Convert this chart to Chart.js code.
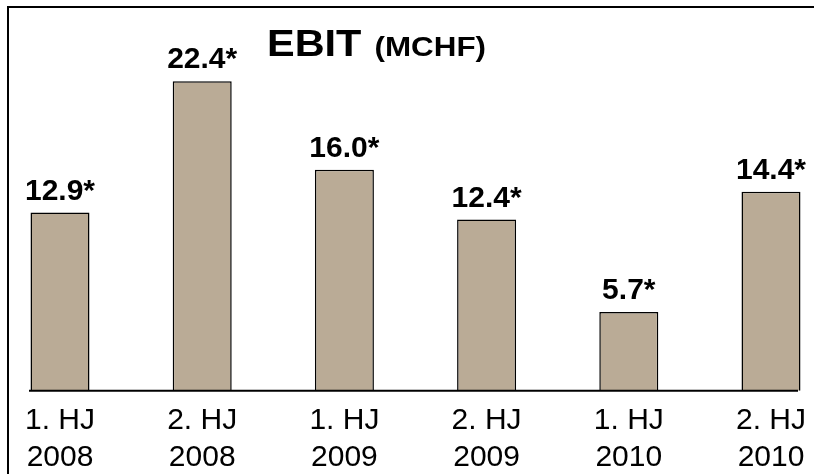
<!DOCTYPE html>
<html>
<head>
<meta charset="utf-8">
<script src="https://cdn.jsdelivr.net/npm/chart.js@4.4.0/dist/chart.umd.min.js"></script>
<style>
  html, body { margin: 0; padding: 0; background: #fff; }
  #wrap { width: 814px; height: 474px; position: relative; }
</style>
</head>
<body>
<div id="wrap"><canvas id="ebitChart"></canvas></div>
<script>
const periods = [["1. HJ", "2008"], ["2. HJ", "2008"], ["1. HJ", "2009"], ["2. HJ", "2009"], ["1. HJ", "2010"], ["2. HJ", "2010"]];
const ebit = [12.9, 22.4, 16.0, 12.4, 5.7, 14.4];
const valueLabels = ["12.9*", "22.4*", "16.0*", "12.4*", "5.7*", "14.4*"];

// frame, title, baseline and value labels drawn on top of the library layout
const decorations = {
  id: "decorations",
  afterDatasetsDraw(chart) {
    const c = chart.ctx;
    const area = chart.chartArea;
    const y0 = chart.scales.y.getPixelForValue(0);
    c.save();
    c.strokeStyle = "#000";
    c.lineWidth = 2;
    c.beginPath();
    c.moveTo(8, 474);
    c.lineTo(8, 7);
    c.lineTo(814, 7);
    c.stroke();
    c.beginPath();
    c.moveTo(area.left - 31, y0);
    c.lineTo(area.right + 27, y0);
    c.stroke();

    c.fillStyle = "#000";
    c.textAlign = "center";
    c.textBaseline = "alphabetic";
    c.font = "bold 30px Arial, 'Liberation Sans', sans-serif";
    chart.getDatasetMeta(0).data.forEach((bar, i) => {
      c.fillText(valueLabels[i], bar.x, bar.y - 13);
    });

    c.textAlign = "left";
    c.translate(267, 56);
    c.scale(1.12, 1);
    c.font = "bold 37px Arial, 'Liberation Sans', sans-serif";
    c.fillText("EBIT", 0, 0);
    c.font = "bold 28px Arial, 'Liberation Sans', sans-serif";
    c.fillText("(MCHF)", 96, 0);
    c.restore();
  }
};

new Chart(document.getElementById("ebitChart"), {
  type: "bar",
  data: {
    labels: periods,
    datasets: [{
      data: ebit,
      backgroundColor: "#BAAB96",
      borderColor: "#000",
      borderWidth: 1.5,
      categoryPercentage: 1,
      barPercentage: 0.415,
      clip: false
    }]
  },
  options: {
    responsive: true,
    maintainAspectRatio: false,
    animation: false,
    layout: { padding: { left: 60, right: 43, top: 4, bottom: -6 } },
    plugins: {
      legend: { display: false },
      tooltip: { enabled: false }
    },
    scales: {
      x: {
        offset: false,
        grid: { display: false },
        border: { display: false },
        ticks: {
          color: "#000",
          padding: 4,
          maxRotation: 0,
          autoSkip: false,
          font: { family: "Arial, 'Liberation Sans', sans-serif", size: 30, lineHeight: 1.22 }
        }
      },
      y: {
        display: false,
        min: 0,
        max: 28
      }
    }
  },
  plugins: [decorations]
});
</script>
</body>
</html>
